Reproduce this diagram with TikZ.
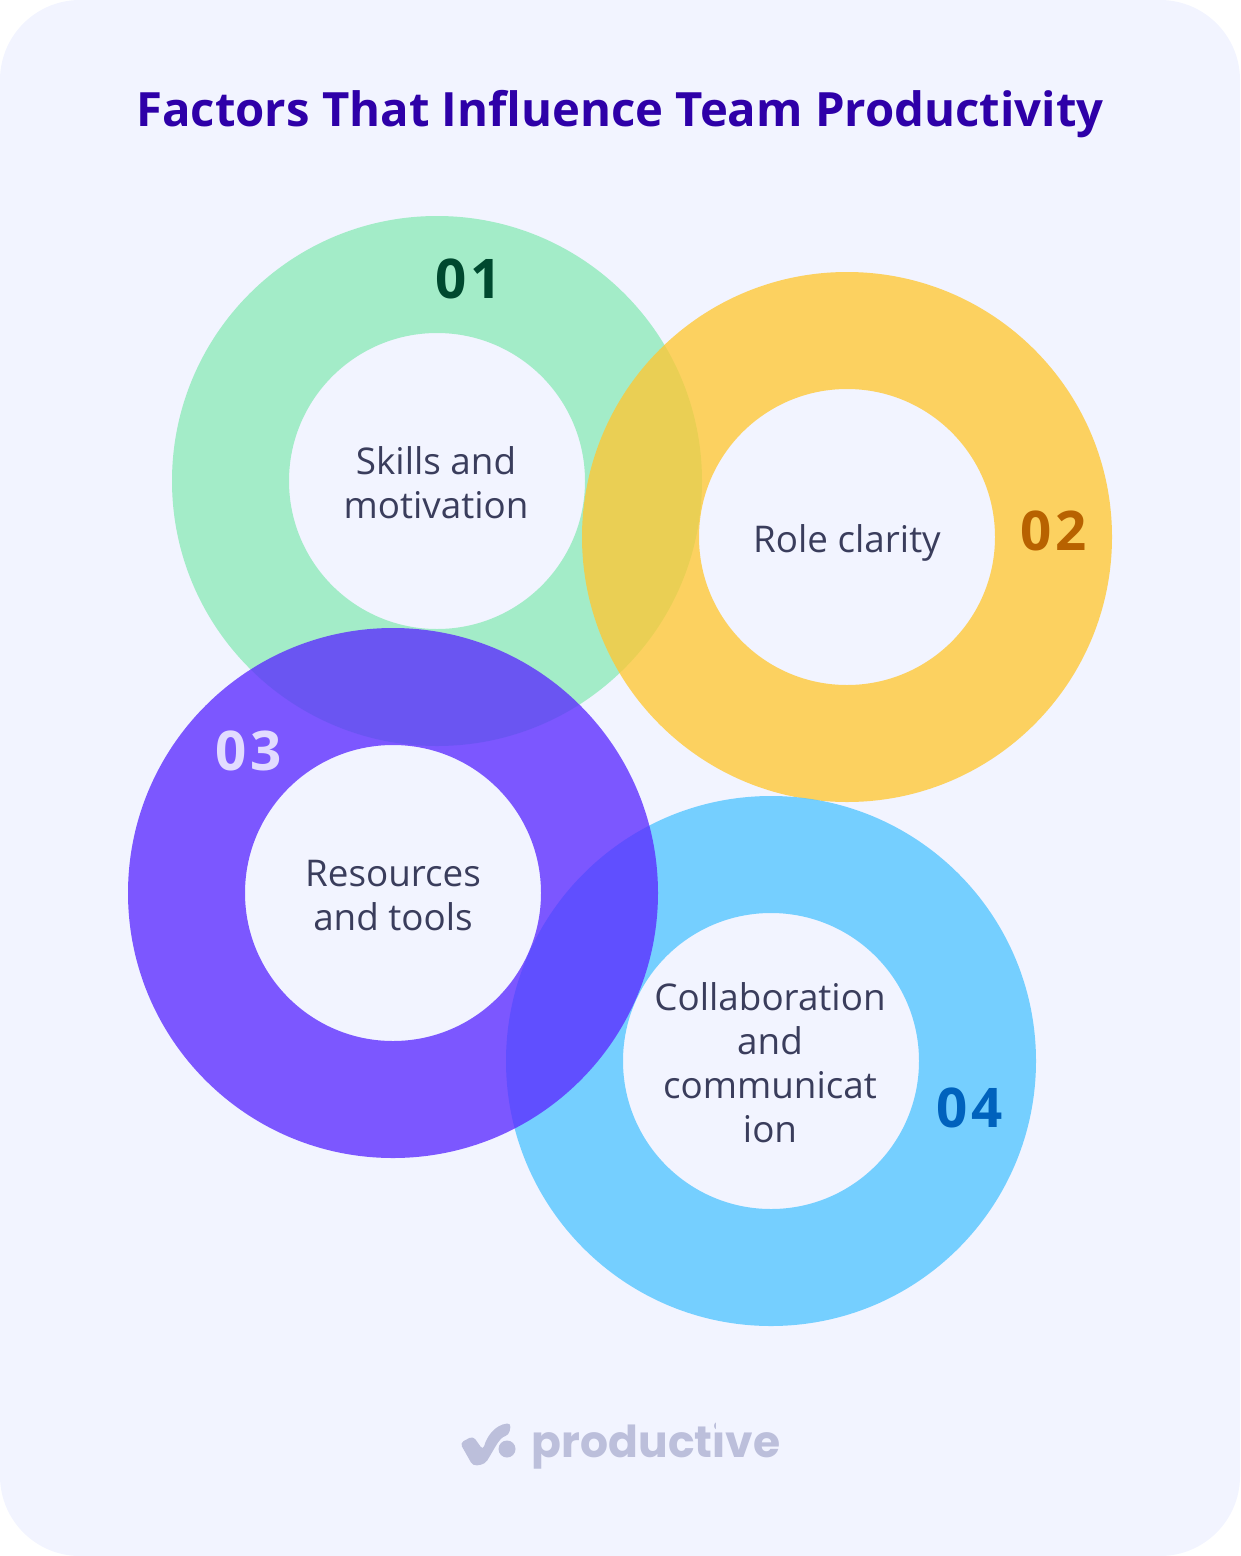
\documentclass[tikz,border=0pt]{standalone}
\usepackage{fontspec}
\setmainfont{Open Sans}
\newfontfamily\logofont{Poppins}
\definecolor{bgc}{HTML}{F2F4FF}
\definecolor{ringgreen}{HTML}{8DEAB9}
\definecolor{ringyellow}{HTML}{FFC834}
\definecolor{ringpurple}{HTML}{5B2BFF}
\definecolor{ringblue}{HTML}{52C5FF}
\definecolor{titlec}{HTML}{2E00A8}
\definecolor{labelc}{HTML}{3A3D5C}
\definecolor{logoc}{HTML}{BCBFDB}
\definecolor{numa}{HTML}{00492F}
\definecolor{numb}{HTML}{B86200}
\definecolor{numc}{HTML}{E2DBFF}
\definecolor{numd}{HTML}{0062BD}
\tikzset{
  ring/.style={even odd rule,fill opacity=.78},
  label/.style={text=labelc,align=center,font=\fontsize{27.6pt}{33pt}\selectfont,inner sep=0pt},
  num/.style={font=\bfseries\fontsize{41pt}{41pt}\selectfont\addfontfeature{LetterSpace=7},inner sep=0pt},
}
\begin{document}
\begin{tikzpicture}[x=0.75pt,y=-0.75pt]
\useasboundingbox (0,0) rectangle (1240,1556);
\fill[bgc,rounded corners=60pt] (0,0) rectangle (1240,1556);
\fill[ring,ringgreen] (437,481) circle (265) (437,481) circle (148);
\fill[ring,ringyellow] (847,537) circle (265) (847,537) circle (148);
\fill[ring,ringblue] (771,1061) circle (265) (771,1061) circle (148);
\fill[ring,ringpurple] (393,893) circle (265) (393,893) circle (148);
\node[text=titlec,font=\bfseries\fontsize{35.45pt}{40pt}\selectfont,inner sep=0pt] (title) at (620,114) {Factors That Influence Team Productivity};
\node[label] (l1) at (436,483) {Skills and\\motivation};
\node[label] (l2) at (847,543) {Role clarity};
\node[label] (l3) at (393,896) {Resources\\and tools};
\node[label] (l4) at (770,1063) {Collaboration\\and\\communicat\\ion};
\node[num,text=numa] (n1) at (469,279) {01};
\node[num,text=numb] (n2) at (1054,531) {02};
\node[num,text=numc] (n3) at (249,751) {03};
\node[num,text=numd] (n4) at (970,1108) {04};
\fill[logoc,rounded corners=3pt] (460,1443) -- (473,1436) -- (483,1450) .. controls (487,1436) and (495,1425) .. (511,1423) -- (509,1435) .. controls (499,1438) and (495,1448) .. (485,1464) -- (473,1466) -- cycle;
\fill[logoc] (507,1449) circle (8.5);
\node[text=logoc,font=\logofont\bfseries\fontsize{33pt}{33pt}\selectfont,inner sep=0pt] (logo) at (656,1446) {productive};
\fill[bgc] (716,1418) rectangle (733,1430);
\end{tikzpicture}
\end{document}
